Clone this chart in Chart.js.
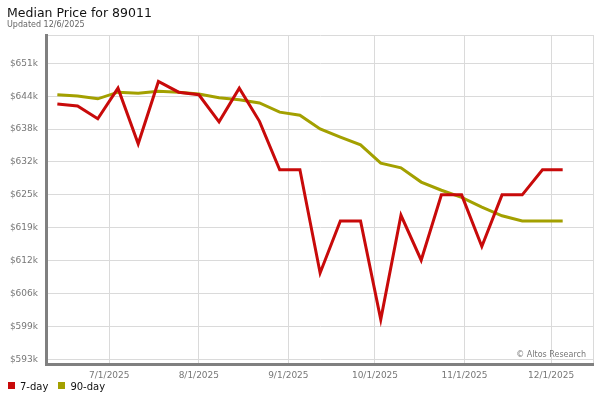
<!DOCTYPE html>
<html>
<head>
<meta charset="utf-8">
<script src="https://cdn.jsdelivr.net/npm/chart.js@4"></script>
<style>
  html, body { margin: 0; padding: 0; background: #fff; }
  #wrap { position: relative; width: 600px; height: 400px; font-family: "DejaVu Sans", sans-serif; }
  #priceChart { position: absolute; left: 0; top: 0; }
  .title { position: absolute; left: 7px; top: 5px; font-size: 12.5px; line-height: 15px; color: #111; white-space: nowrap; }
  .sub { position: absolute; left: 7px; top: 20px; font-size: 8px; line-height: 10px; color: #666; white-space: nowrap; }
  .legend { position: absolute; left: 8px; top: 380px; font-size: 10px; line-height: 14px; color: #111; white-space: nowrap; }
  .legend span.item { display: inline-block; margin-right: 10px; }
  .legend i { display: inline-block; width: 7px; height: 7px; margin-right: 5px; vertical-align: 1px; }
</style>
</head>
<body>
<div id="wrap">
  <canvas id="priceChart" width="600" height="400"></canvas>
  <div class="title">Median Price for 89011</div>
  <div class="sub">Updated 12/6/2025</div>
  <div class="legend" id="legend"></div>
</div>
<script>
// weekly dates (M/D/YYYY)
const weeks = ['6/13/2025', '6/20/2025', '6/27/2025', '7/4/2025', '7/11/2025', '7/18/2025', '7/25/2025',
  '8/1/2025', '8/8/2025', '8/15/2025', '8/22/2025', '8/29/2025', '9/5/2025', '9/12/2025', '9/19/2025',
  '9/26/2025', '10/3/2025', '10/10/2025', '10/17/2025', '10/24/2025', '10/31/2025', '11/7/2025',
  '11/14/2025', '11/21/2025', '11/28/2025', '12/5/2025'];

// median price, thousands of $
const sevenDay = [642.9, 642.5, 640.0, 646.0, 635.1, 647.3, 645.2, 644.7, 639.4, 646.0, 639.5, 630.0, 630.0,
  609.8, 620.0, 620.0, 600.7, 621.1, 612.3, 625.1, 625.1, 615.0, 625.1, 625.1, 630.0, 630.0];
const ninetyDay = [644.7, 644.45, 643.9, 645.2, 645.0, 645.4, 645.2, 644.85, 644.1, 643.7, 643.1, 641.3, 640.7,
  638.0, 636.4, 634.9, 631.3, 630.4, 627.6, 626.0, 624.6, 622.7, 621.0, 620.0, 620.0, 620.0];

const monthTicks = ['7/1/2025', '8/1/2025', '9/1/2025', '10/1/2025', '11/1/2025', '12/1/2025'];
const priceTicks = [592.9, 599.34, 605.78, 612.22, 618.66, 625.1, 631.54, 637.98, 644.42, 650.86];

// day number since 1/1/2025
function dayNum(s) {
  const p = s.split('/');
  return (Date.UTC(+p[2], +p[0] - 1, +p[1]) - Date.UTC(2025, 0, 1)) / 864e5;
}
const tickByDay = {};
monthTicks.forEach(m => { tickByDay[dayNum(m)] = m; });

const font = 'DejaVu Sans';
const gridColor = '#dadada';
const red = '#c80a0a';
const olive = '#a3a000';

const watermark = {
  id: 'watermark',
  afterDraw(chart) {
    const c = chart.ctx, a = chart.chartArea;
    c.save();
    c.font = '8px "' + font + '"';
    c.fillStyle = '#777';
    c.textAlign = 'right';
    c.textBaseline = 'alphabetic';
    c.fillText('\u00A9 Altos Research', a.right - 7, a.bottom - 7);
    c.restore();
  }
};

const chart = new Chart(document.getElementById('priceChart'), {
  type: 'line',
  data: {
    datasets: [{
      label: '7-day',
      data: weeks.map((w, i) => ({ x: dayNum(w), y: sevenDay[i] })),
      borderColor: red,
      backgroundColor: red,
      borderWidth: 3,
      pointRadius: 0,
      tension: 0
    }, {
      label: '90-day',
      data: weeks.map((w, i) => ({ x: dayNum(w), y: ninetyDay[i] })),
      borderColor: olive,
      backgroundColor: olive,
      borderWidth: 3,
      pointRadius: 0,
      tension: 0
    }]
  },
  options: {
    responsive: false,
    animation: false,
    layout: { padding: { left: 7, right: 7, top: 35, bottom: 14 } },
    plugins: {
      legend: { display: false },
      tooltip: { enabled: false }
    },
    scales: {
      x: {
        type: 'linear',
        min: 159.07,
        max: 348.5,
        afterBuildTicks: s => {
          s.ticks = monthTicks.map(m => ({ value: dayNum(m) })).concat([{ value: s.max }]);
        },
        afterFit: s => { s.height = 22; },
        ticks: {
          autoSkip: false,
          maxRotation: 0,
          padding: 6,
          color: '#777',
          font: { family: font, size: 9 },
          callback: v => tickByDay[v] || ''
        },
        grid: { color: gridColor, drawTicks: false },
        border: { display: true, color: '#808080', width: 3 }
      },
      y: {
        min: 591.98,
        max: 656.4,
        afterBuildTicks: s => {
          s.ticks = priceTicks.map(v => ({ value: v })).concat([{ value: s.max }]);
        },
        afterFit: s => { s.width = 39; },
        ticks: {
          padding: 8,
          color: '#777',
          font: { family: font, size: 9 },
          callback: v => v === 656.4 ? '' : '$' + Math.round(v) + 'k'
        },
        grid: { color: gridColor, drawTicks: false },
        border: { display: true, color: '#808080', width: 3 }
      }
    }
  },
  plugins: [watermark]
});

// legend from the chart's datasets
document.getElementById('legend').innerHTML = chart.data.datasets.map(d =>
  '<span class="item"><i style="background:' + d.borderColor + '"></i>' + d.label + '</span>').join('');
</script>
</body>
</html>
